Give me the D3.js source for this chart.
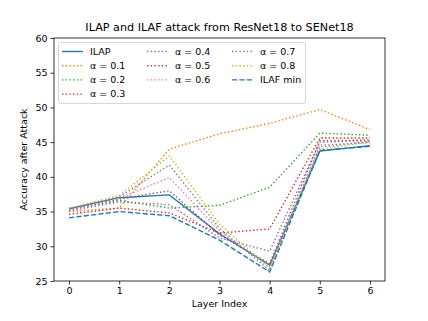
<!DOCTYPE html>
<html>
<head>
<meta charset="utf-8">
<script src="https://cdn.jsdelivr.net/npm/d3@7"></script>
<style>
  body { margin: 0; background: #fff; }
  svg { font-family: "DejaVu Sans", sans-serif; }
</style>
</head>
<body>
<svg id="chart"></svg>
<script>
// layer indices on the x axis
const layers = [0, 1, 2, 3, 4, 5, 6];

// accuracy after attack
const ilap    = [35.4, 37.0, 37.4, 31.8, 27.3, 43.7, 44.5];
const alpha01 = [35.0, 35.5, 44.0, 46.2, 47.7, 49.7, 46.8];
const alpha02 = [35.3, 36.6, 35.5, 35.9, 38.5, 46.3, 46.0];
const alpha03 = [34.6, 35.5, 34.8, 31.9, 32.5, 45.6, 45.6];
const alpha04 = [35.1, 36.4, 36.0, 31.2, 29.3, 45.0, 45.2];
const alpha05 = [35.3, 36.8, 38.0, 31.6, 27.5, 45.2, 45.3];
const alpha06 = [35.3, 36.9, 39.9, 32.2, 27.0, 44.6, 44.9];
const alpha07 = [35.4, 37.1, 41.7, 32.6, 26.5, 44.3, 45.1];
const alpha08 = [35.5, 37.3, 43.0, 33.2, 26.8, 44.0, 45.0];
const ilafMin = [34.1, 35.0, 34.4, 30.9, 26.3, 43.8, 44.4];

const xTicks = [0, 1, 2, 3, 4, 5, 6];
const yTicks = [25, 30, 35, 40, 45, 50, 55, 60];

const series = [
  { name: "ILAP", values: ilap, color: "#1f77b4", dash: null },
  { name: "α = 0.1", values: alpha01, color: "#ff7f0e", dash: "1.4,2.3" },
  { name: "α = 0.2", values: alpha02, color: "#2ca02c", dash: "1.4,2.3" },
  { name: "α = 0.3", values: alpha03, color: "#d62728", dash: "1.4,2.3" },
  { name: "α = 0.4", values: alpha04, color: "#9467bd", dash: "1.4,2.3" },
  { name: "α = 0.5", values: alpha05, color: "#8c564b", dash: "1.4,2.3" },
  { name: "α = 0.6", values: alpha06, color: "#e377c2", dash: "1.4,2.3" },
  { name: "α = 0.7", values: alpha07, color: "#7f7f7f", dash: "1.4,2.3" },
  { name: "α = 0.8", values: alpha08, color: "#bcbd22", dash: "1.4,2.3" },
  { name: "ILAF min", values: ilafMin, color: "#1f77b4", dash: "5.2,2.2" }
];

const width = 428;
const height = 321;
const margin = { top: 38, right: 43, bottom: 40, left: 54 };

const svg = d3.select("#chart")
  .attr("width", width)
  .attr("height", height);

const x = d3.scaleLinear()
  .domain([-0.3, 6.3])
  .range([margin.left, width - margin.right]);

const y = d3.scaleLinear()
  .domain([25, 60])
  .range([height - margin.bottom, margin.top]);

// lines
const line = d3.line()
  .x((d, i) => x(layers[i]))
  .y(d => y(d));

svg.append("g")
  .selectAll("path")
  .data(series)
  .enter()
  .append("path")
  .attr("d", d => line(d.values))
  .attr("fill", "none")
  .attr("stroke", d => d.color)
  .attr("stroke-width", 1.4)
  .attr("stroke-dasharray", d => d.dash);

// axes
const xAxis = svg.append("g")
  .attr("transform", `translate(0,${height - margin.bottom})`)
  .call(d3.axisBottom(x).tickValues(xTicks).tickFormat(d3.format("d"))
    .tickSize(3.5).tickPadding(3).tickSizeOuter(0));

const yAxis = svg.append("g")
  .attr("transform", `translate(${margin.left},0)`)
  .call(d3.axisLeft(y).tickValues(yTicks).tickFormat(d3.format("d"))
    .tickSize(3.5).tickPadding(3).tickSizeOuter(0));

[xAxis, yAxis].forEach(g => {
  g.select(".domain").remove();
  g.selectAll("text").attr("font-size", 9.5).attr("fill", "#000")
    .attr("font-family", "DejaVu Sans");
  g.selectAll("line").attr("stroke", "#000").attr("stroke-width", 0.8);
});

// frame
svg.append("rect")
  .attr("x", margin.left)
  .attr("y", margin.top)
  .attr("width", width - margin.left - margin.right)
  .attr("height", height - margin.top - margin.bottom)
  .attr("fill", "none")
  .attr("stroke", "#000")
  .attr("stroke-width", 0.8);

// title and labels
svg.append("text")
  .attr("x", (margin.left + width - margin.right) / 2)
  .attr("y", 31)
  .attr("text-anchor", "middle")
  .attr("font-size", 11.2)
  .text("ILAP and ILAF attack from ResNet18 to SENet18");

svg.append("text")
  .attr("x", (margin.left + width - margin.right) / 2)
  .attr("y", 307)
  .attr("text-anchor", "middle")
  .attr("font-size", 9.5)
  .text("Layer Index");

svg.append("text")
  .attr("transform", "rotate(-90)")
  .attr("x", -(margin.top + height - margin.bottom) / 2)
  .attr("y", 27)
  .attr("text-anchor", "middle")
  .attr("font-size", 9.5)
  .text("Accuracy after Attack");

// legend, three columns
const legend = svg.append("g");
legend.append("rect")
  .attr("x", 58.5)
  .attr("y", 42.5)
  .attr("width", 247)
  .attr("height", 61)
  .attr("rx", 2)
  .attr("fill", "#fff")
  .attr("fill-opacity", 0.8)
  .attr("stroke", "#ccc")
  .attr("stroke-width", 0.8);

const colX = [62, 147, 232];
const rowY = [51.5, 65.7, 79.9, 94.1];
const layout = [[0, 0], [0, 1], [0, 2], [0, 3], [1, 0], [1, 1], [1, 2], [2, 0], [2, 1], [2, 2]];

series.forEach((s, i) => {
  const [c, r] = layout[i];
  const lx = colX[c];
  const ly = rowY[r];
  legend.append("line")
    .attr("x1", lx).attr("x2", lx + 21)
    .attr("y1", ly).attr("y2", ly)
    .attr("stroke", s.color)
    .attr("stroke-width", 1.4)
    .attr("stroke-dasharray", s.dash);
  legend.append("text")
    .attr("x", lx + 28)
    .attr("y", ly)
    .attr("dy", "0.35em")
    .attr("font-size", 9.5)
    .text(s.name);
});
</script>
</body>
</html>
